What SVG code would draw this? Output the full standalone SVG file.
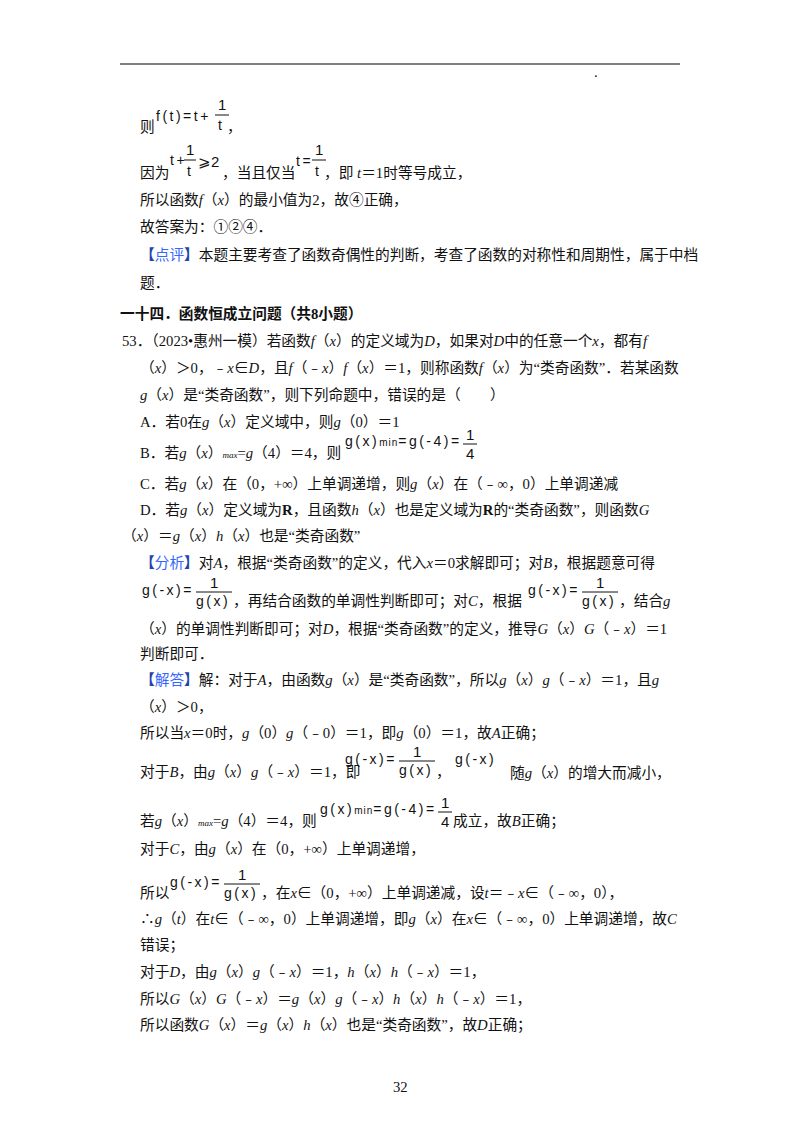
<svg xmlns="http://www.w3.org/2000/svg" width="800" height="1132" viewBox="0 0 800 1132">
<style>
text{font-family:"Liberation Serif","Noto Sans CJK SC",serif;font-size:14.7px;fill:#111}
.i{font-style:italic}
.m{font-family:"Liberation Sans","Noto Sans CJK SC",sans-serif;font-size:14px;letter-spacing:2.5px}
.f{font-family:"Liberation Sans",sans-serif;font-size:15px}
.b{font-weight:bold;fill:#2244aa}
.bl{fill:#3366ff}
.s{font-size:9px;font-style:italic}
line.r{stroke:#111;stroke-width:1}
</style>
<rect width="800" height="1132" fill="#fff"/>
<line x1="120" y1="64" x2="680" y2="64" stroke="#000" stroke-width="1.2"/>
<text x="594" y="77" font-size="6">.</text>
<text x="140" y="132">则</text>
<text x="156" y="121" class="m">f(t)=t+</text>
<text x="218" y="110" class="f">1</text><line class="r" x1="215" y1="115" x2="229" y2="115"/>
<text x="218" y="130" class="m">t</text><text x="227" y="132">，</text>
<text x="140" y="178">因为</text>
<text x="170" y="165" class="m">t+</text>
<text x="186" y="155" class="f">1</text><line class="r" x1="184" y1="160" x2="196" y2="160"/>
<text x="187" y="176" class="m">t</text>
<text x="198" y="167" class="f">⩾2</text>
<text x="222" y="178">，当且仅当</text>
<text x="296" y="166" class="m">t=</text>
<text x="315" y="155" class="f">1</text><line class="r" x1="312" y1="160" x2="326" y2="160"/>
<text x="315" y="176" class="m">t</text>
<text x="324" y="178">，即 <tspan class="i">t</tspan>＝1时等号成立，</text>
<text x="140" y="205">所以函数<tspan class="i">f</tspan>（<tspan class="i">x</tspan>）的最小值为2，故④正确，</text>
<text x="140" y="232">故答案为：①②④．</text>
<text x="140" y="260"><tspan class="b">【</tspan><tspan class="bl">点评</tspan><tspan class="b">】</tspan>本题主要考查了函数奇偶性的判断，考查了函数的对称性和周期性，属于中档</text>
<text x="140" y="288">题．</text>
<text x="120" y="319" font-weight="bold">一十四．函数恒成立问题（共8小题）</text>
<text x="122" y="346">53．（2023•惠州一模）若函数<tspan class="i">f</tspan>（<tspan class="i">x</tspan>）的定义域为<tspan class="i">D</tspan>，如果对<tspan class="i">D</tspan>中的任意一个<tspan class="i">x</tspan>，都有<tspan class="i">f</tspan></text>
<text x="140" y="373">（<tspan class="i">x</tspan>）＞0，﹣<tspan class="i">x</tspan>∈<tspan class="i">D</tspan>，且<tspan class="i">f</tspan>（﹣<tspan class="i">x</tspan>）<tspan class="i">f</tspan>（<tspan class="i">x</tspan>）＝1，则称函数<tspan class="i">f</tspan>（<tspan class="i">x</tspan>）为“类奇函数”．若某函数</text>
<text x="140" y="400"><tspan class="i">g</tspan>（<tspan class="i">x</tspan>）是“类奇函数”，则下列命题中，错误的是（　　）</text>
<text x="140" y="427">A．若0在<tspan class="i">g</tspan>（<tspan class="i">x</tspan>）定义域中，则<tspan class="i">g</tspan>（0）＝1</text>
<text x="140" y="458">B．若<tspan class="i">g</tspan>（<tspan class="i">x</tspan>）<tspan class="s">max</tspan>=<tspan class="i">g</tspan>（4）＝4，则</text>
<text x="345" y="446" class="m">g(x)<tspan font-size="10" letter-spacing="1">min</tspan>=g(-4)=</text>
<text x="466" y="440" class="f">1</text><line class="r" x1="463" y1="444" x2="477" y2="444"/>
<text x="466" y="459" class="f">4</text>
<text x="140" y="489">C．若<tspan class="i">g</tspan>（<tspan class="i">x</tspan>）在（0，+∞）上单调递增，则<tspan class="i">g</tspan>（<tspan class="i">x</tspan>）在（﹣∞，0）上单调递减</text>
<text x="140" y="515">D．若<tspan class="i">g</tspan>（<tspan class="i">x</tspan>）定义域为<tspan font-weight="bold">R</tspan>，且函数<tspan class="i">h</tspan>（<tspan class="i">x</tspan>）也是定义域为<tspan font-weight="bold">R</tspan>的“类奇函数”，则函数<tspan class="i">G</tspan></text>
<text x="122" y="541">（<tspan class="i">x</tspan>）＝<tspan class="i">g</tspan>（<tspan class="i">x</tspan>）<tspan class="i">h</tspan>（<tspan class="i">x</tspan>）也是“类奇函数”</text>
<text x="140" y="568"><tspan class="b">【</tspan><tspan class="bl">分析</tspan><tspan class="b">】</tspan>对<tspan class="i">A</tspan>，根据“类奇函数”的定义，代入<tspan class="i">x</tspan>＝0求解即可；对<tspan class="i">B</tspan>，根据题意可得</text>
<text x="142" y="595" class="m">g(-x)=</text>
<text x="210" y="588" class="f">1</text><line class="r" x1="196" y1="592" x2="232" y2="592"/>
<text x="196" y="606" class="m">g(x)</text>
<text x="233" y="606">，再结合函数的单调性判断即可；对<tspan class="i">C</tspan>，根据</text>
<text x="528" y="595" class="m">g(-x)=</text>
<text x="596" y="588" class="f">1</text><line class="r" x1="582" y1="592" x2="618" y2="592"/>
<text x="582" y="606" class="m">g(x)</text>
<text x="619" y="606">，结合<tspan class="i">g</tspan></text>
<text x="140" y="634">（<tspan class="i">x</tspan>）的单调性判断即可；对<tspan class="i">D</tspan>，根据“类奇函数”的定义，推导<tspan class="i">G</tspan>（<tspan class="i">x</tspan>）<tspan class="i">G</tspan>（﹣<tspan class="i">x</tspan>）＝1</text>
<text x="140" y="659">判断即可．</text>
<text x="140" y="685"><tspan class="b">【</tspan><tspan class="bl">解答</tspan><tspan class="b">】</tspan>解：对于<tspan class="i">A</tspan>，由函数<tspan class="i">g</tspan>（<tspan class="i">x</tspan>）是“类奇函数”，所以<tspan class="i">g</tspan>（<tspan class="i">x</tspan>）<tspan class="i">g</tspan>（﹣<tspan class="i">x</tspan>）＝1，且<tspan class="i">g</tspan></text>
<text x="140" y="712">（<tspan class="i">x</tspan>）＞0，</text>
<text x="140" y="738">所以当<tspan class="i">x</tspan>＝0时，<tspan class="i">g</tspan>（0）<tspan class="i">g</tspan>（﹣0）＝1，即<tspan class="i">g</tspan>（0）＝1，故<tspan class="i">A</tspan>正确；</text>
<text x="140" y="777">对于<tspan class="i">B</tspan>，由<tspan class="i">g</tspan>（<tspan class="i">x</tspan>）<tspan class="i">g</tspan>（﹣<tspan class="i">x</tspan>）＝1，即</text>
<text x="345" y="764" class="m">g(-x)=</text>
<text x="413" y="757" class="f">1</text><line class="r" x1="399" y1="761" x2="435" y2="761"/>
<text x="399" y="775" class="m">g(x)</text>
<text x="436" y="777">，</text>
<text x="455" y="764" class="m">g(-x)</text>
<text x="510" y="778">随<tspan class="i">g</tspan>（<tspan class="i">x</tspan>）的增大而减小，</text>
<text x="140" y="826">若<tspan class="i">g</tspan>（<tspan class="i">x</tspan>）<tspan class="s">max</tspan>=<tspan class="i">g</tspan>（4）＝4，则</text>
<text x="320" y="814" class="m">g(x)<tspan font-size="10" letter-spacing="1">min</tspan>=g(-4)=</text>
<text x="441" y="808" class="f">1</text><line class="r" x1="438" y1="812" x2="452" y2="812"/>
<text x="441" y="827" class="f">4</text>
<text x="453" y="826">成立，故<tspan class="i">B</tspan>正确；</text>
<text x="140" y="854">对于<tspan class="i">C</tspan>，由<tspan class="i">g</tspan>（<tspan class="i">x</tspan>）在（0，+∞）上单调递增，</text>
<text x="140" y="898">所以</text>
<text x="170" y="887" class="m">g(-x)=</text>
<text x="238" y="880" class="f">1</text><line class="r" x1="224" y1="884" x2="260" y2="884"/>
<text x="224" y="898" class="m">g(x)</text>
<text x="261" y="898">，在<tspan class="i">x</tspan>∈（0，+∞）上单调递减，设<tspan class="i">t</tspan>＝﹣<tspan class="i">x</tspan>∈（﹣∞，0），</text>
<text x="140" y="924">∴<tspan class="i">g</tspan>（<tspan class="i">t</tspan>）在<tspan class="i">t</tspan>∈（﹣∞，0）上单调递增，即<tspan class="i">g</tspan>（<tspan class="i">x</tspan>）在<tspan class="i">x</tspan>∈（﹣∞，0）上单调递增，故<tspan class="i">C</tspan></text>
<text x="140" y="950">错误；</text>
<text x="140" y="977">对于<tspan class="i">D</tspan>，由<tspan class="i">g</tspan>（<tspan class="i">x</tspan>）<tspan class="i">g</tspan>（﹣<tspan class="i">x</tspan>）＝1，<tspan class="i">h</tspan>（<tspan class="i">x</tspan>）<tspan class="i">h</tspan>（﹣<tspan class="i">x</tspan>）＝1，</text>
<text x="140" y="1004">所以<tspan class="i">G</tspan>（<tspan class="i">x</tspan>）<tspan class="i">G</tspan>（﹣<tspan class="i">x</tspan>）＝<tspan class="i">g</tspan>（<tspan class="i">x</tspan>）<tspan class="i">g</tspan>（﹣<tspan class="i">x</tspan>）<tspan class="i">h</tspan>（<tspan class="i">x</tspan>）<tspan class="i">h</tspan>（﹣<tspan class="i">x</tspan>）＝1，</text>
<text x="140" y="1030">所以函数<tspan class="i">G</tspan>（<tspan class="i">x</tspan>）＝<tspan class="i">g</tspan>（<tspan class="i">x</tspan>）<tspan class="i">h</tspan>（<tspan class="i">x</tspan>）也是“类奇函数”，故<tspan class="i">D</tspan>正确；</text>
<text x="393" y="1092" font-family="Liberation Sans,sans-serif" font-size="11">32</text>
</svg>
